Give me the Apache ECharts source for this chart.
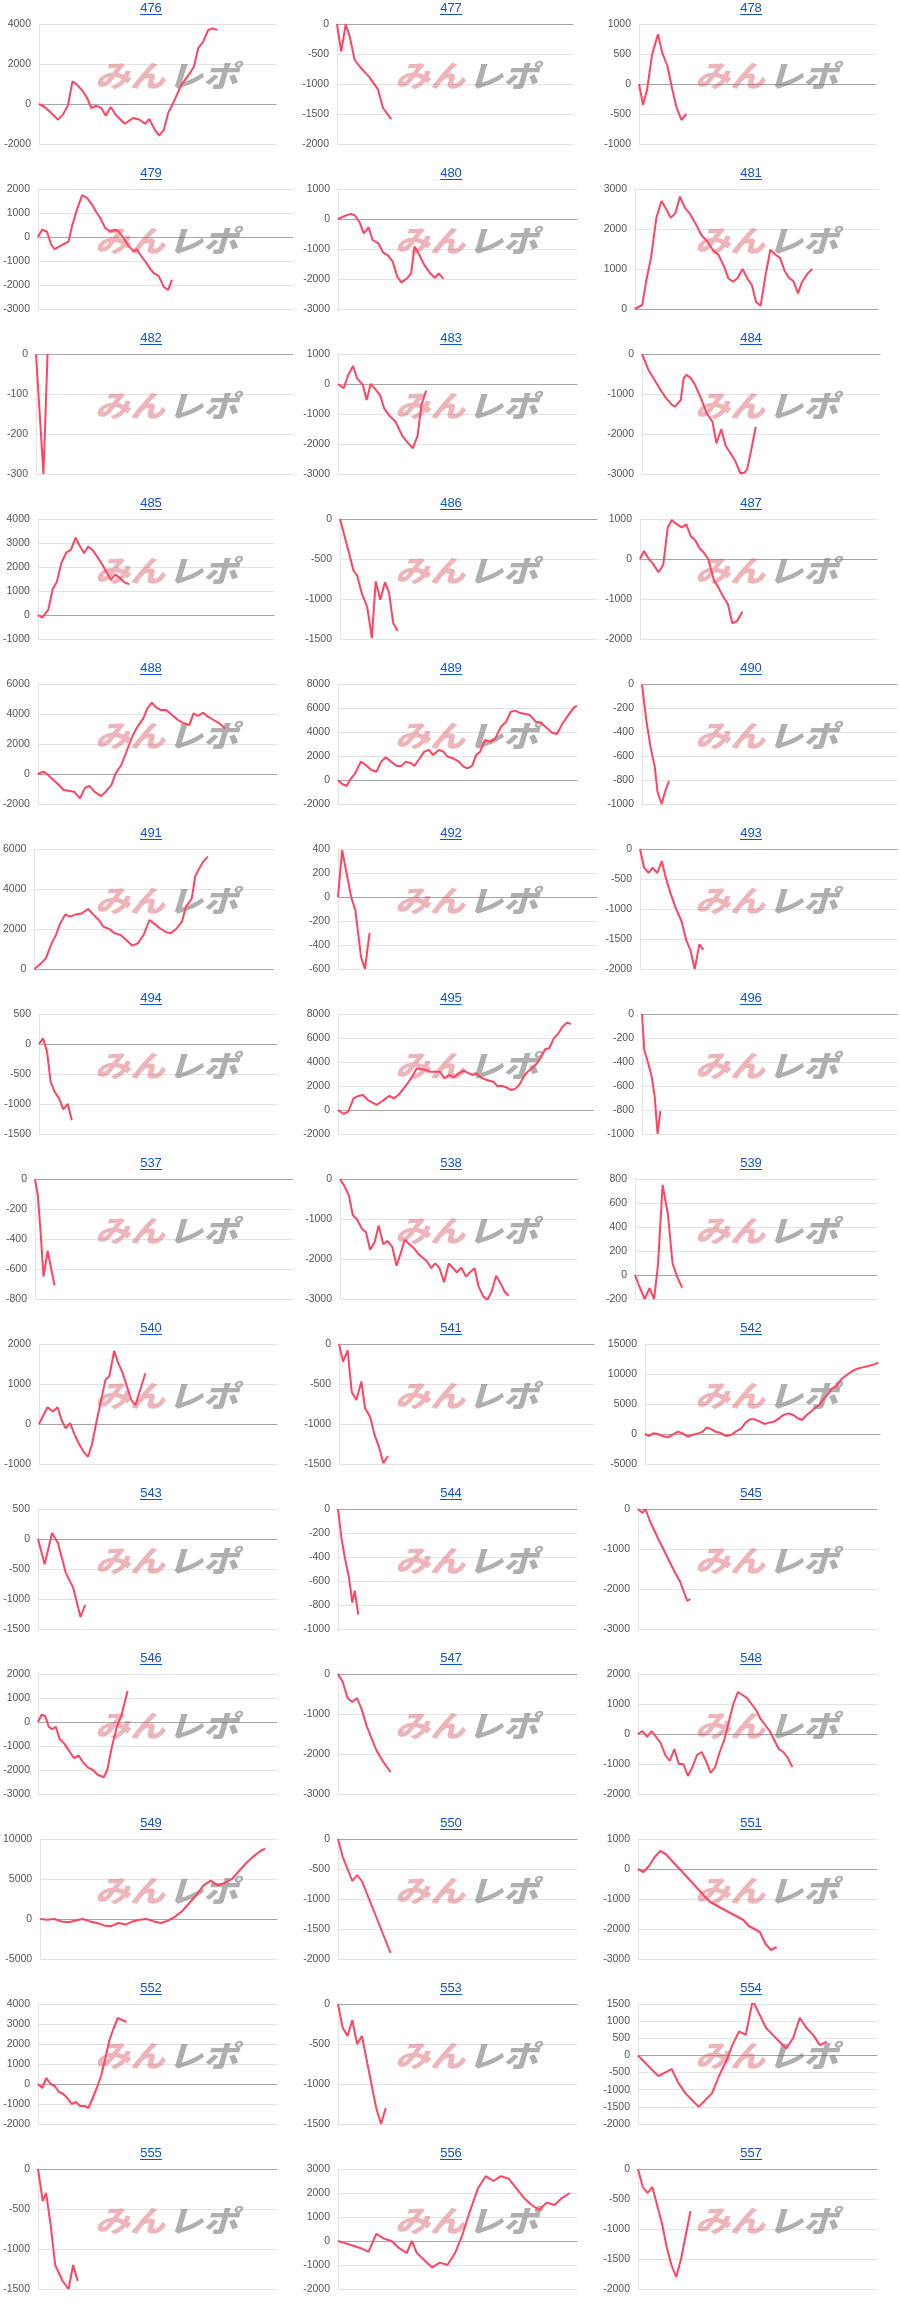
<!DOCTYPE html>
<html><head><meta charset="utf-8">
<script src="https://cdn.jsdelivr.net/npm/echarts@6/dist/echarts.min.js"></script>
<style>html,body{margin:0;padding:0;background:#fff}#c{width:900px;height:2310px}</style>
</head><body><div id="c"></div><script>
const titles = ['476','477','478','479','480','481','482','483','484','485','486','487','488','489','490','491','492','493','494','495','496','537','538','539','540','541','542','543','544','545','546','547','548','549','550','551','552','553','554','555','556','557'];
const yMax  = [4000,0,1000,2000,1000,3000,0,1000,0,4000,0,1000,6000,8000,0,6000,400,0,500,8000,0,0,0,800,2000,0,15000,500,0,0,2000,0,2000,10000,0,1000,4000,0,1500,0,3000,0];
const yMin  = [-2000,-2000,-1000,-3000,-3000,0,-300,-3000,-3000,-1000,-1500,-2000,-2000,-2000,-1000,0,-600,-2000,-1500,-2000,-1000,-800,-3000,-200,-1000,-1500,-5000,-1500,-1000,-3000,-3000,-3000,-2000,-5000,-2000,-3000,-2000,-1500,-2000,-1500,-2000,-2000];
const yStep = [2000,500,500,1000,1000,1000,100,1000,1000,1000,500,1000,2000,2000,200,2000,200,500,500,2000,200,200,1000,200,1000,500,5000,500,200,1000,1000,1000,1000,5000,500,1000,1000,500,500,500,1000,500];

// [position along the x range (0-100), cumulative value]
const s476 = [[0,0],[2.4,-150],[5.2,-450],[8,-780],[10.1,-530],[12.3,-40],[14.1,1130],[16.1,960],[18.6,630],[20.3,300],[22.1,-200],[24.2,-90],[26.3,-200],[28.2,-590],[30.3,-150],[32.4,-540],[36.2,-990],[39.7,-700],[42.5,-790],[44.8,-990],[46.5,-750],[48.9,-1290],[50.7,-1580],[52.7,-1290],[54.5,-450],[56.6,40],[60.1,960],[63.7,1540],[65.4,1870],[67.2,2790],[69.3,3120],[71.4,3700],[73.2,3780],[75.2,3700]];
const s477 = [[0,0],[1.8,-460],[3.7,0],[5.4,-210],[7.5,-600],[10.3,-740],[13.8,-890],[17.4,-1090],[19.5,-1400],[23,-1585]];
const s478 = [[0,0],[1.7,-350],[3.4,-100],[5.5,485],[8,830],[9.9,510],[12,300],[14.1,-100],[15.8,-385],[17.9,-600],[20,-500]];
const s479 = [[0,0],[1.6,300],[3.5,230],[5.1,-290],[6.5,-510],[8.8,-370],[12,-190],[13.3,440],[15.3,1140],[17.3,1740],[19.2,1630],[21.2,1350],[23.1,1000],[24.4,790],[26.4,370],[28.4,230],[30.3,300],[31.6,230],[33.6,-50],[35.5,-370],[37.5,-600],[38.8,-510],[40.1,-740],[42.1,-1020],[44.1,-1340],[45.4,-1510],[47.3,-1620],[49.3,-2070],[51,-2210],[52.5,-1790]];
const s480 = [[0,0],[3.6,130],[5.5,170],[7.2,110],[8.9,-90],[10.8,-480],[12.8,-280],[14.5,-700],[16.9,-810],[18.8,-1110],[21,-1220],[22.9,-1420],[24.8,-1920],[26.5,-2110],[28.9,-1980],[30.6,-1810],[32,-920],[33.7,-1140],[36.1,-1530],[38.6,-1810],[40.5,-1960],[42.2,-1810],[44.1,-2000]];
const s481 = [[0,0],[3,100],[4.7,730],[6.6,1280],[8.8,2280],[10.9,2700],[13,2480],[14.7,2280],[16.6,2390],[18.5,2810],[20.6,2520],[22.5,2390],[24.9,2140],[27.3,1850],[29.6,1700],[32,1480],[34.4,1350],[36.7,1060],[38.4,770],[40.3,680],[42.2,770],[44.3,1000],[46.2,770],[48.1,600],[49.8,180],[51.7,80],[53.8,870],[55.7,1480],[58,1350],[59.7,1280],[61.6,950],[63.5,770],[65.2,700],[67.1,390],[68.7,670],[71.1,890],[73,1000]];
const s482 = [[0,0],[2.9,-300],[4.5,0]];
const s483 = [[0,0],[2.4,-140],[4.3,300],[6.3,600],[8,190],[10.4,-30],[12,-530],[13.7,0],[15.7,-180],[17.6,-370],[19.3,-810],[21.7,-1070],[24.1,-1260],[26.9,-1730],[29.4,-1980],[31.3,-2140],[33.3,-1730],[34.9,-700],[36.9,-220]];
const s484 = [[0,0],[2.9,-420],[5.3,-650],[7.8,-900],[10.2,-1110],[12.6,-1270],[13.8,-1320],[16.3,-1150],[17.5,-610],[18.7,-520],[20.6,-610],[22.3,-770],[24.8,-1110],[27.2,-1480],[29.6,-1690],[31.3,-2230],[33.3,-1880],[35.2,-2300],[37.6,-2520],[39.3,-2690],[41.3,-2980],[43,-2970],[44.2,-2880],[45.9,-2400],[47.8,-1820]];
const s485 = [[0,0],[1.9,-110],[4.4,210],[6.3,1080],[8,1360],[9.9,2150],[12.1,2610],[14,2710],[16,3220],[17.7,2890],[19.6,2570],[21.3,2850],[23.2,2710],[25.4,2390],[27.4,2080],[29.1,1780],[31,1460],[32.7,1690],[34.6,1560],[36.6,1360],[38.7,1280]];
const s486 = [[0,0],[1.8,-220],[3.4,-410],[5.2,-640],[6.7,-710],[8.5,-930],[10.6,-1100],[12.4,-1490],[13.9,-780],[15.7,-1010],[17.5,-790],[19.1,-920],[20.7,-1300],[22.5,-1400]];
const s487 = [[0,0],[1.7,200],[3.7,0],[5.4,-110],[7.8,-330],[9.8,-150],[11.7,780],[13.4,975],[15.1,890],[17.6,790],[19.5,870],[21.5,560],[23.2,480],[25.1,270],[26.8,170],[28.8,0],[31.2,-530],[32.9,-690],[34.9,-920],[37.1,-1130],[39,-1610],[41,-1550],[43.2,-1320]];
const s488 = [[0,0],[2.4,160],[4.3,-70],[6.5,-400],[8.4,-670],[10.8,-1070],[13.3,-1130],[15.2,-1180],[17.6,-1620],[19.8,-910],[21.7,-800],[23.6,-1180],[26.5,-1470],[28.4,-1180],[30.8,-730],[32.5,40],[34.9,600],[37.3,1600],[39.8,2600],[41.7,3160],[44.1,3710],[45.8,4380],[47.7,4760],[49.4,4440],[51.3,4270],[53.7,4270],[56.1,3930],[58.6,3600],[61,3380],[63.4,3270],[65.1,4040],[67,3870],[69.2,4090],[71.1,3820],[73.5,3600],[75.9,3380],[78.3,3040]];
const s489 = [[0,0],[1.7,-330],[3.6,-500],[5.5,140],[7.2,560],[9.6,1530],[11.6,1250],[14,830],[16.1,690],[18.1,1530],[20,1890],[22.2,1530],[24.6,1170],[26.5,1170],[28.4,1530],[30.6,1390],[32,1170],[33.7,1670],[36.1,2360],[38.1,2500],[39.8,2080],[42.2,2500],[44.1,2360],[45.8,1940],[48.2,1810],[50.6,1530],[52.5,1110],[54.2,970],[56.1,1170],[57.8,2080],[59.5,2360],[61.4,3330],[63.9,3190],[65.8,3470],[68.2,4440],[70.4,4860],[72.3,5690],[74.2,5780],[75.9,5610],[78.3,5500],[80.2,5420],[82.7,4860],[85.1,4720],[87.5,4310],[89.6,3940],[91.6,3830],[94,4720],[96.4,5420],[98.8,6060],[100,6170]];
const s490 = [[0,0],[1.6,-290],[3.4,-530],[5,-690],[6.1,-900],[7.7,-1000],[9,-900],[10.6,-810]];
const s491 = [[0,0],[2.4,230],[4.8,530],[7.2,1280],[8.9,1670],[10.8,2280],[12.9,2730],[14.9,2620],[17.3,2730],[19.7,2780],[22.5,3000],[24.5,2730],[26.9,2450],[28.8,2120],[31.2,2000],[33.6,1780],[36,1700],[38.4,1450],[40.8,1170],[43.2,1280],[45.6,1700],[48,2450],[50.4,2230],[52.8,2000],[55.2,1830],[56.8,1780],[59.2,2000],[61.6,2370],[63.3,3120],[65.7,3530],[67.1,4620],[68.8,5030],[70.5,5370],[72.4,5620]];
const s492 = [[0,0],[1.6,390],[3.3,200],[5.1,0],[6.7,-110],[8.9,-500],[10.4,-600],[12.2,-300]];
const s493 = [[0,0],[1.6,-310],[3.4,-400],[4.9,-310],[6.7,-400],[8.5,-200],[10.1,-490],[11.9,-740],[13.9,-980],[16.2,-1210],[18,-1520],[19.6,-1680],[21.3,-2000],[23.1,-1590],[24.7,-1680]];
const s494 = [[0,0],[1.7,95],[3.4,-130],[4.9,-630],[6.6,-800],[8.5,-910],[10.2,-1090],[12.1,-1000],[13.8,-1270]];
const s495 = [[0,0],[2.2,-330],[4,-140],[6.1,970],[7.9,1170],[9.7,1250],[11.7,830],[13.5,610],[15.1,420],[16.9,690],[18.7,970],[20.2,1170],[21.8,970],[23.6,1250],[25.4,1720],[27.2,2220],[28.8,2720],[30.8,3470],[32.6,3390],[34.4,3330],[36,3190],[38.2,3190],[39.8,3190],[41.6,2640],[43.4,2920],[45.4,2720],[47.2,3060],[49,3280],[50.6,3110],[52.4,2920],[53.9,3060],[55.7,2720],[57.3,2560],[59.1,2440],[60.7,2360],[62.2,2000],[64,2000],[65.8,1890],[67.4,1670],[69,1720],[70.8,2080],[72.4,2720],[73.7,3110],[75.7,3470],[77.5,3830],[79.1,4310],[80.9,5060],[82.5,5140],[84.3,5970],[86.1,6390],[87.6,6890],[89.4,7280],[91,7170]];
const s496 = [[0,0],[0.9,-300],[2.3,-400],[3.8,-520],[5,-690],[6.1,-1000],[7.2,-810]];
const s537 = [[0,0],[1.1,-110],[2.2,-360],[3.3,-650],[4.9,-480],[6.3,-600],[7.6,-710]];
const s538 = [[0,0],[2,-190],[3.7,-400],[5.4,-900],[7.3,-1020],[9.3,-1250],[11,-1330],[12.7,-1770],[14.6,-1580],[16.3,-1170],[18.3,-1630],[20,-1550],[22,-1690],[23.9,-2170],[25.6,-1860],[27.3,-1520],[29.3,-1630],[31.2,-1730],[32.9,-1860],[34.9,-1970],[36.6,-2050],[38.5,-2230],[40.2,-2110],[42,-2230],[43.9,-2580],[45.9,-2110],[47.6,-2220],[49.3,-2330],[51.2,-2220],[53.2,-2440],[54.9,-2330],[56.8,-2230],[58.5,-2690],[60.5,-2940],[62.2,-3020],[63.9,-2830],[65.9,-2420],[67.8,-2610],[69.5,-2820],[71.2,-2920]];
const s539 = [[0,0],[1.9,-100],[4,-200],[6,-110],[7.9,-200],[9.5,83],[11.4,750],[13.6,510],[15.5,100],[17.4,-15],[19.5,-105]];
const s540 = [[0,0],[1.7,200],[3.6,420],[5.8,310],[7.8,420],[9.5,100],[11.2,-110],[13.1,20],[15,-270],[17,-520],[18.7,-690],[20.6,-820],[22.3,-500],[24.3,100],[26,560],[27.9,1100],[29.6,1200],[31.6,1830],[33.3,1520],[35.2,1270],[36.9,950],[38.8,600],[40.5,470],[42.5,850],[44.7,1270]];
const s541 = [[0,0],[1.6,-220],[3.4,-80],[5,-600],[6.8,-700],[8.8,-470],[10.2,-800],[12.2,-910],[14,-1140],[15.8,-1300],[17.4,-1490],[19.2,-1400]];
const s542 = [[0,0],[1.7,-330],[3.4,110],[5.4,0],[7.4,-330],[9.8,-560],[11.5,-170],[14,390],[16,110],[18.2,-440],[20.1,-170],[22.6,110],[24.6,390],[26.3,1110],[28.3,780],[30,390],[31.9,220],[34.4,-330],[36.6,-170],[38.6,390],[41,940],[42.8,1890],[44.7,2440],[46.7,2440],[48.9,2060],[50.9,1670],[52.8,1890],[55,2060],[57,2610],[58.9,3170],[61.2,3440],[63.1,3170],[65.1,2610],[66.8,2330],[68.8,3170],[70.5,3720],[72.2,4280],[74.2,4830],[76.2,5940],[77.9,6670],[79.6,7610],[81.6,8000],[83.5,9110],[85.3,9670],[87.2,10220],[89,10670],[90.9,10940],[92.6,11100],[95.1,11330],[97.5,11600],[99.3,11900]];
const s543 = [[0,0],[2.8,-420],[5.9,100],[8.4,-70],[11.6,-560],[14.7,-810],[17.8,-1300],[19.7,-1100]];
const s544 = [[0,0],[1.5,-250],[3,-420],[4.5,-560],[6,-780],[7,-680],[8.5,-880]];
const s545 = [[0,0],[1.9,-100],[3.1,0],[5,-300],[8.1,-700],[10.6,-1000],[13.1,-1300],[15.6,-1600],[17.5,-1800],[19.4,-2100],[20.6,-2300],[21.9,-2250]];
const s546 = [[0,0],[1.5,300],[3,250],[4.5,-200],[6,-300],[7.5,-200],[9,-700],[11,-900],[13,-1200],[15,-1500],[17,-1400],[19,-1700],[21,-1900],[23,-2000],[25,-2200],[27.5,-2300],[29,-2000],[31,-1000],[33,-200],[35,300],[37.5,1300]];
const s547 = [[0,0],[2,-200],[4,-600],[6,-700],[8,-600],[10,-900],[12,-1300],[14,-1600],[16,-1900],[19,-2200],[22,-2450]];
const s548 = [[0,0],[1.9,100],[3.8,-100],[5.7,100],[7.6,-100],[9.5,-300],[11.4,-700],[13.3,-900],[15.2,-500],[17.1,-1000],[19,-1000],[20.9,-1400],[22.8,-1100],[24.7,-700],[26.6,-600],[28.5,-900],[30.4,-1300],[32.3,-1100],[34.2,-600],[36.1,-200],[38,400],[39.9,1000],[41.8,1400],[43.7,1300],[45.6,1200],[47.5,1000],[49.4,800],[51.3,500],[53.2,300],[55.1,100],[57,-200],[58.9,-500],[60.8,-600],[62.7,-800],[64.6,-1100]];
const s549 = [[0,0],[3,-100],[6,0],[9,-300],[12,-400],[15,-200],[18,0],[21,-300],[24,-500],[27,-800],[30,-900],[33,-500],[36,-700],[39,-300],[42,-100],[45,0],[48,-300],[51,-500],[54,-200],[57,300],[60,1000],[63,2000],[66,3000],[69,4200],[72,4800],[75,4200],[78,4500],[81,5000],[84,6000],[87,7000],[90,7800],[93,8500],[95,8800]];
const s550 = [[0,0],[2,-300],[4,-500],[6,-700],[8,-600],[10,-700],[12,-900],[14,-1100],[16,-1300],[18,-1500],[20,-1700],[22,-1900]];
const s551 = [[0,0],[2.3,-100],[4.6,100],[7,400],[9.3,600],[11.6,500],[13.9,300],[16.2,100],[18.6,-100],[20.9,-300],[23.2,-500],[25.5,-700],[27.8,-900],[30.2,-1100],[32.5,-1200],[34.8,-1300],[37.1,-1400],[39.4,-1500],[41.8,-1600],[44.1,-1700],[46.4,-1900],[48.7,-2000],[51,-2100],[53.4,-2500],[55.7,-2700],[58,-2600]];
const s552 = [[0,0],[1.8,-200],[3.5,300],[5.3,0],[7,-100],[8.8,-400],[10.6,-500],[12.3,-700],[14.1,-1000],[15.8,-900],[17.6,-1100],[19.4,-1100],[21.1,-1200],[22.9,-700],[24.6,-200],[26.4,400],[28.2,1300],[29.9,2200],[31.7,2800],[33.4,3300],[35.2,3200],[37,3100]];
const s553 = [[0,0],[2,-300],[4,-400],[6,-200],[8,-500],[10,-400],[12,-700],[14,-1000],[16,-1300],[18,-1500],[20,-1300]];
const s554 = [[0,0],[2.8,-200],[5.6,-400],[8.5,-600],[11.3,-500],[14.1,-400],[16.9,-800],[19.8,-1100],[22.6,-1300],[25.4,-1500],[28.2,-1300],[31,-1100],[33.9,-600],[36.7,-200],[39.5,300],[42.3,700],[45.1,600],[48,1600],[50.8,1200],[53.6,800],[56.4,600],[59.2,400],[62,200],[64.9,500],[67.7,1100],[70.5,800],[73.3,600],[76.1,300],[79,400]];
const s555 = [[0,0],[2,-400],[3.4,-300],[5.3,-700],[7.2,-1200],[10.3,-1400],[12.8,-1500],[14.7,-1200],[16.6,-1400]];
const s556 = [[0,0],[3.2,-100],[6.4,-200],[9.6,-300],[12.8,-450],[16,300],[19.2,100],[22.4,0],[25.6,-300],[28.8,-500],[30.9,0],[33,-500],[36.2,-800],[39.4,-1100],[42.6,-900],[45.8,-1000],[49,-500],[52.2,300],[55.4,1300],[58.6,2200],[61.8,2700],[65,2500],[68.2,2700],[71.4,2600],[74.6,2200],[77.8,1800],[81,1500],[84.2,1300],[87.4,1600],[90.6,1500],[93.8,1800],[97,2000]];
const s557 = [[0,0],[2,-300],[4,-400],[6,-300],[8,-600],[10,-900],[12,-1300],[14,-1600],[16,-1800],[18,-1500],[20,-1100],[22,-700]];

const seriesData = [s476,s477,s478,s479,s480,s481,s482,s483,s484,s485,s486,s487,s488,s489,s490,s491,s492,s493,s494,s495,s496,s537,s538,s539,s540,s541,s542,s543,s544,s545,s546,s547,s548,s549,s550,s551,s552,s553,s554,s555,s556,s557];

// layout: plot area left/right inside each 300px-wide cell
const plotL = [39,37,39,38,38,35,36,38,42,36,40,40,37,38,42,34,38,40,39,38,42,35,40,35,39,39,45,38,38,38,38,38,38,38,38,38,38,38,38,38,38,38];
const plotR = [276,273,276,293,277,278,293,277,280,274,297,277,277,277,297,274,297,297,277,294,297,293,277,277,277,294,280,277,277,277,277,277,277,277,277,277,277,277,277,277,277,277];

const CELL_W = 300, CELL_H = 165;
const grids = [], xAxes = [], yAxes = [], series = [], graphics = [];
titles.forEach((t, i) => {
  const col = i % 3, row = Math.floor(i / 3);
  const ox = col * CELL_W, oy = row * CELL_H;
  grids.push({left: ox + plotL[i], top: oy + 24, width: plotR[i] - plotL[i], height: 120});
  xAxes.push({type: 'value', gridIndex: i, min: 0, max: 100,
    axisLine: {show: true, onZero: true, lineStyle: {color: '#a6a6a6', width: 1}},
    axisTick: {show: false}, axisLabel: {show: false}, splitLine: {show: false}});
  yAxes.push({type: 'value', gridIndex: i, min: yMin[i], max: yMax[i], interval: yStep[i],
    axisLine: {show: true, lineStyle: {color: '#e3e3e3'}}, axisTick: {show: false},
    axisLabel: {color: '#555', fontSize: 10.5, fontFamily: 'Arial, "Liberation Sans"', margin: 8, formatter: v => String(v)},
    splitLine: {show: true, lineStyle: {color: '#e3e3e3', width: 1}}});
  series.push({type: 'line', xAxisIndex: i, yAxisIndex: i, data: seriesData[i], showSymbol: false,
    lineStyle: {color: '#ff4462', width: 2}, itemStyle: {color: '#ff4462'}, z: 5, animation: false});
  const cx = ox + 151;
  graphics.push({type: 'text', x: cx, y: oy + 8.6, z: 10,
    style: {text: t, fill: '#1155cc', font: '13px Arial, "Liberation Sans"', align: 'center', verticalAlign: 'middle'}});
  graphics.push({type: 'rect', shape: {x: cx - 11, y: oy + 14, width: 22, height: 1}, z: 10, style: {fill: '#1155cc'}});
  graphics.push({type: 'text', x: ox + 95, y: oy + 76, scaleX: 1.17, z: 1,
    style: {text: 'みん', fill: 'rgba(214,90,100,0.45)', font: 'italic 900 30px "Noto Sans CJK JP"', verticalAlign: 'middle'}});
  graphics.push({type: 'text', x: ox + 168, y: oy + 76, scaleX: 1.17, z: 1,
    style: {text: 'レポ', fill: 'rgba(110,110,110,0.55)', font: 'italic 900 30px "Noto Sans CJK JP"', verticalAlign: 'middle'}});
});

const chart = echarts.init(document.getElementById('c'), null, {renderer: 'canvas'});
chart.setOption({animation: false, grid: grids, xAxis: xAxes, yAxis: yAxes, series: series, graphic: graphics});
</script></body></html>
